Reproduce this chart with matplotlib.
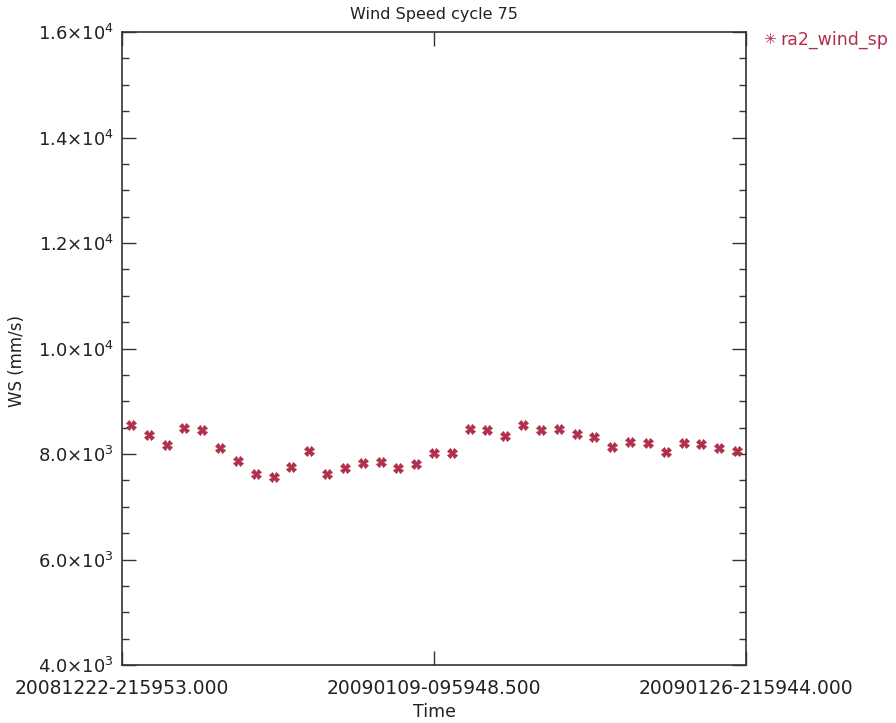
import matplotlib
matplotlib.use("Agg")
import matplotlib.pyplot as plt
import numpy as np

# days since 20081222-215953
days = np.arange(35) + 0.5
ws = [8550, 8360, 8170, 8490, 8450, 8110, 7870, 7620, 7560, 7750,
      8060, 7620, 7730, 7830, 7850, 7730, 7810, 8020, 8020, 8470,
      8450, 8340, 8550, 8450, 8470, 8380, 8320, 8130, 8230, 8210,
      8040, 8210, 8190, 8110, 8060]
xtick_pos = [0, 17.5, 35]
xtick_labels = ["20081222-215953.000", "20090109-095948.500", "20090126-215944.000"]
ytick_pos = [4000, 6000, 8000, 10000, 12000, 14000, 16000]
ytick_labels = [r"$4.0{\times}10^{3}$", r"$6.0{\times}10^{3}$", r"$8.0{\times}10^{3}$",
                r"$1.0{\times}10^{4}$", r"$1.2{\times}10^{4}$", r"$1.4{\times}10^{4}$",
                r"$1.6{\times}10^{4}$"]

red = "#B0304C"
ink = "#333333"
txt = "#222222"

fig = plt.figure(figsize=(8.96, 7.23), dpi=100)
ax = fig.add_axes([122 / 896, 1 - 665 / 723, 624 / 896, 633 / 723])
ax.plot(days, ws, linestyle="none", marker="X", markersize=7, color=red,
        markeredgewidth=0.5)

ax.set_xlim(0, 35)
ax.set_ylim(4000, 16000)
ax.set_xticks(xtick_pos)
ax.set_xticklabels(xtick_labels)
ax.set_yticks(ytick_pos)
ax.set_yticklabels(ytick_labels)
ax.set_yticks(np.arange(4000, 16001, 500), minor=True)

ax.tick_params(axis="both", which="major", direction="in", length=10, width=1,
               color=ink, labelcolor=txt)
ax.tick_params(axis="x", which="major", labelsize=13.5, pad=10)
ax.tick_params(axis="y", which="major", labelsize=13, pad=6)
ax.tick_params(axis="y", which="both", right=True)
ax.tick_params(axis="x", which="both", top=True)
ax.tick_params(axis="y", which="minor", direction="in", length=5, width=1, color=ink)
for s in ax.spines.values():
    s.set_color(ink)
    s.set_linewidth(1.2)

ax.set_title("Wind Speed cycle 75", fontsize=11.5, color=txt, pad=9)
ax.set_xlabel("Time", fontsize=12.5, color=txt, labelpad=4)
ax.set_ylabel("WS (mm/s)", fontsize=12, color=txt)
ax.yaxis.set_label_coords(-96 / 624, 0.48)

fig.text(763 / 896, 1 - 40 / 723, "\u2733", color=red, fontsize=11, va="center",
         family=["DejaVu Sans"])
fig.text(780 / 896, 1 - 40 / 723, "ra2_wind_sp", color=red, fontsize=12.5, va="center")

fig.savefig("out.png", dpi=100)
